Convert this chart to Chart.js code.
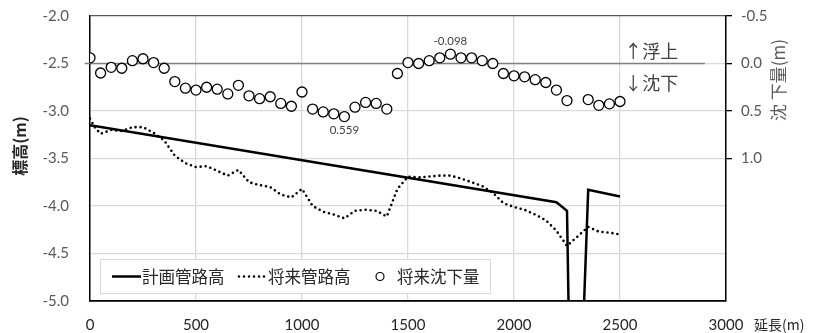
<!DOCTYPE html>
<html lang="ja">
<head>
<meta charset="UTF-8">
<title>計画管路高・将来管路高・将来沈下量</title>
<script src="https://cdn.jsdelivr.net/npm/chart.js"></script>
<style>
  body { margin: 0; background: #fff; }
  #wrap { width: 817px; height: 333px; }
</style>
</head>
<body>
<div id="wrap"><canvas id="chart" width="817" height="333"></canvas></div>
<script>
// 将来沈下量 (m, right axis, downward positive)
const settleX = [0, 50, 100, 150, 200, 250, 300, 350, 400, 450, 500, 550, 600, 650, 700, 750, 800, 850, 900, 950,
  1000, 1050, 1100, 1150, 1200, 1250, 1300, 1350, 1400, 1450, 1500, 1550, 1600, 1650, 1700, 1750, 1800, 1850, 1900, 1950,
  2000, 2050, 2100, 2150, 2200, 2250, 2350, 2400, 2450, 2500];
const settleVal = [-0.06, 0.10, 0.04, 0.05, -0.03, -0.05, -0.01, 0.05, 0.19, 0.26, 0.28, 0.25, 0.27, 0.32, 0.23, 0.34, 0.37, 0.35, 0.42, 0.45,
  0.30, 0.48, 0.51, 0.53, 0.559, 0.46, 0.41, 0.42, 0.48, 0.105, -0.01, 0.00, -0.03, -0.06, -0.098, -0.06, -0.06, -0.03, 0.00, 0.105,
  0.13, 0.14, 0.17, 0.20, 0.28, 0.39, 0.38, 0.44, 0.425, 0.40];

// 計画管路高 (m)
const planX = [0, 2200, 2250, 2280, 2350, 2500];
const planY = [-3.15, -3.96, -4.05, -8.1, -3.83, -3.90];

// 将来管路高 (m)
const futX = [0, 25, 50, 100, 150, 200, 250, 300, 350, 400, 450, 500, 550, 600, 650, 700, 750, 800, 850, 900, 950,
  1000, 1050, 1100, 1150, 1200, 1250, 1300, 1350, 1400, 1450, 1500, 1550, 1600, 1650, 1700, 1750, 1800, 1850, 1900, 1950,
  2000, 2050, 2100, 2150, 2200, 2250, 2300, 2350, 2400, 2450, 2500];
const futY = [-3.08, -3.18, -3.24, -3.20, -3.21, -3.17, -3.17, -3.23, -3.31, -3.47, -3.55, -3.59, -3.58, -3.63, -3.68, -3.62, -3.75, -3.78, -3.80, -3.88, -3.91,
  -3.82, -4.00, -4.06, -4.09, -4.13, -4.05, -4.04, -4.05, -4.11, -3.82, -3.69, -3.70, -3.69, -3.68, -3.68, -3.71, -3.75, -3.79, -3.86, -3.97,
  -4.01, -4.04, -4.09, -4.15, -4.26, -4.42, -4.32, -4.22, -4.27, -4.28, -4.30];

// 沈下量 0 line
const zeroX = [-25, 2900];
const zeroY = [0, 0];

// labelled settlement values
const pointNotes = [
  { x: 1200, v: 0.559, text: '0.559', below: true },
  { x: 1700, v: -0.098, text: '-0.098', below: false }
];

const jp = '"Noto Sans CJK JP", sans-serif';
const num = 'Lato, "Noto Sans", sans-serif';

const toXY = (xs, ys) => xs.map((x, i) => ({ x: x, y: ys[i] }));

// titles, annotations and the boxed legend
const extras = {
  id: 'extras',
  afterDraw(chart) {
    const { ctx, scales: { x, y2 } } = chart;
    ctx.save();

    // value labels on settlement points
    ctx.font = '11.5px ' + num;
    ctx.fillStyle = '#404040';
    ctx.textAlign = 'center';
    ctx.textBaseline = 'middle';
    pointNotes.forEach(n => {
      const px = x.getPixelForValue(n.x);
      const py = y2.getPixelForValue(n.v);
      ctx.fillText(n.text, px, py + (n.below ? 14 : -13));
    });

    // 浮上 / 沈下 notes
    ctx.font = '18px ' + jp;
    ctx.fillStyle = '#404040';
    ctx.textAlign = 'left';
    const ax = x.getPixelForValue(2520);
    ctx.fillText('↑浮上', ax, y2.getPixelForValue(-0.125));
    ctx.fillText('↓沈下', ax, y2.getPixelForValue(0.21));

    // left title
    ctx.save();
    ctx.translate(20, 146);
    ctx.rotate(-Math.PI / 2);
    ctx.font = 'bold 16px ' + jp;
    ctx.fillStyle = '#262626';
    ctx.textAlign = 'center';
    ctx.fillText('標高(m)', 0, 0);
    ctx.restore();

    // right title
    ctx.save();
    ctx.translate(779, 80);
    ctx.rotate(-Math.PI / 2);
    ctx.font = '17px ' + jp;
    ctx.fillStyle = '#595959';
    ctx.textAlign = 'center';
    ctx.fillText('沈 下量(m)', 0, 0);
    ctx.restore();

    // x axis name
    ctx.font = '14px ' + jp;
    ctx.fillStyle = '#262626';
    ctx.textAlign = 'left';
    ctx.fillText('延長(m)', 754, 325);

    // legend box
    const lx = 100, ly = 259, lw = 390, lh = 34;
    ctx.fillStyle = '#fff';
    ctx.fillRect(lx, ly, lw, lh);
    ctx.strokeStyle = '#d9d9d9';
    ctx.lineWidth = 1;
    ctx.strokeRect(lx + 0.5, ly + 0.5, lw, lh);
    const my = ly + lh / 2 + 0.5;
    ctx.strokeStyle = '#000';
    ctx.lineWidth = 2.5;
    ctx.beginPath();
    ctx.moveTo(112, my);
    ctx.lineTo(141, my);
    ctx.stroke();
    ctx.setLineDash([0, 5]);
    ctx.lineCap = 'round';
    ctx.beginPath();
    ctx.moveTo(239, my);
    ctx.lineTo(266, my);
    ctx.stroke();
    ctx.setLineDash([]);
    ctx.lineWidth = 1.2;
    ctx.beginPath();
    ctx.arc(380, my, 4, 0, Math.PI * 2);
    ctx.stroke();
    ctx.font = '16.5px ' + jp;
    ctx.fillStyle = '#262626';
    ctx.textBaseline = 'middle';
    ctx.fillText('計画管路高', 142, my);
    ctx.fillText('将来管路高', 268, my);
    ctx.fillText('将来沈下量', 397, my);

    ctx.restore();
  }
};

new Chart(document.getElementById('chart'), {
  type: 'scatter',
  data: {
    datasets: [
      {
        label: '将来沈下量',
        data: toXY(settleX, settleVal),
        yAxisID: 'y2',
        order: 0,
        pointStyle: 'circle',
        pointRadius: 5,
        pointBorderWidth: 1.3,
        pointBorderColor: '#000',
        pointBackgroundColor: '#fff',
        showLine: false
      },
      {
        label: '計画管路高',
        data: toXY(planX, planY),
        yAxisID: 'y',
        order: 1,
        showLine: true,
        borderColor: '#000',
        borderWidth: 2.5,
        pointRadius: 0,
        tension: 0
      },
      {
        label: '将来管路高',
        data: toXY(futX, futY),
        yAxisID: 'y',
        order: 2,
        showLine: true,
        borderColor: '#000',
        borderWidth: 2.6,
        borderDash: [0, 5],
        borderCapStyle: 'round',
        pointRadius: 0,
        tension: 0
      },
      {
        label: 'zero',
        data: toXY(zeroX, zeroY),
        yAxisID: 'y2',
        order: 3,
        showLine: true,
        borderColor: '#7f7f7f',
        borderWidth: 1.5,
        pointRadius: 0,
        clip: false
      }
    ]
  },
  options: {
    responsive: false,
    animation: false,
    layout: { padding: { top: 16, left: 0, right: 0, bottom: 0 } },
    plugins: {
      legend: { display: false },
      tooltip: { enabled: false }
    },
    scales: {
      x: {
        type: 'linear',
        min: 0,
        max: 3000,
        afterFit: s => { s.height = 32; s.paddingLeft = 0; s.paddingRight = 0; },
        ticks: { stepSize: 500, color: '#262626', font: { family: num, size: 15 }, padding: 15, maxRotation: 0, callback: v => String(v) },
        grid: {
          drawTicks: false,
          lineWidth: 1.3,
          color: c => (c.tick && (c.tick.value === 0 || c.tick.value === 3000)) ? 'rgba(0,0,0,0)' : '#d9d9d9'
        },
        border: { color: '#000', width: 1.8 }
      },
      y: {
        position: 'left',
        min: -5,
        max: -2,
        afterFit: s => { s.width = 90; s.paddingTop = 8; s.paddingBottom = 8; },
        ticks: { stepSize: 0.5, color: '#595959', font: { family: num, size: 15 }, padding: 21, callback: v => v.toFixed(1) },
        grid: {
          drawTicks: false,
          lineWidth: 1.3,
          color: c => (c.tick && c.tick.value === -2) ? '#595959' : '#d9d9d9'
        },
        border: { color: '#000', width: 1.5 }
      },
      y2: {
        position: 'right',
        reverse: true,
        min: -0.5,
        max: 2.5,
        afterFit: s => { s.width = 91; s.paddingTop = 8; s.paddingBottom = 8; },
        ticks: { stepSize: 0.5, color: '#595959', font: { family: num, size: 15 }, padding: 9, callback: v => v <= 1.0 ? v.toFixed(1) : '' },
        grid: {
          drawOnChartArea: false,
          drawTicks: true,
          tickLength: 6,
          lineWidth: 1.3,
          color: c => (c.tick && c.tick.value > 1.0) ? 'rgba(0,0,0,0)' : '#000'
        },
        border: { color: '#000', width: 1.5 }
      }
    }
  },
  plugins: [extras]
});
</script>
</body>
</html>
